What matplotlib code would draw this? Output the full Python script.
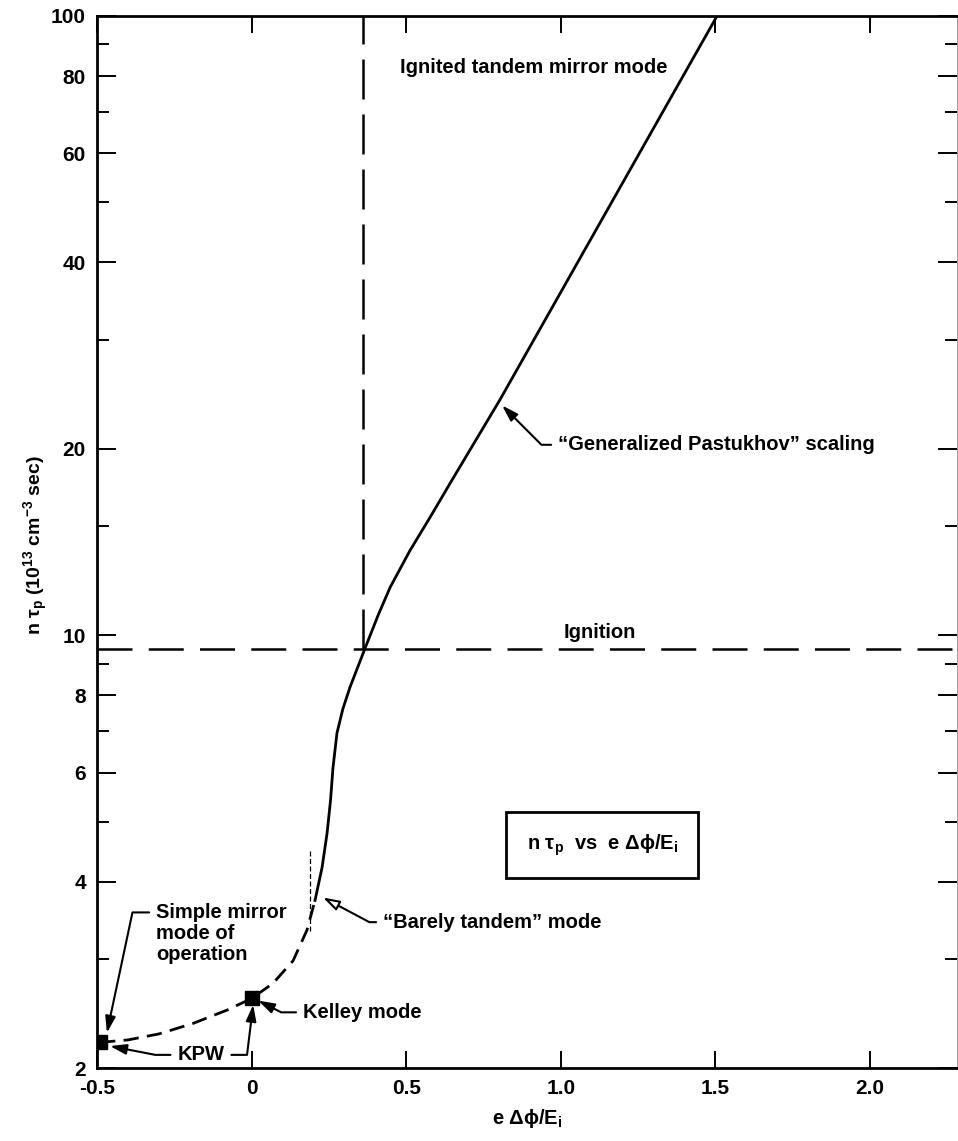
import matplotlib
matplotlib.use("Agg")
import matplotlib.pyplot as plt
from matplotlib.ticker import FixedLocator, FixedFormatter, NullFormatter

plt.rcParams['font.family'] = ['Liberation Sans', 'DejaVu Sans']
plt.rcParams['font.weight'] = 'bold'
plt.rcParams['mathtext.default'] = 'regular'

# ---- data ----
solid_x = [0.205, 0.228, 0.244, 0.255, 0.263, 0.276, 0.295, 0.318, 0.367,
           0.410, 0.448, 0.512, 0.577, 0.642, 0.803, 1.505]
solid_y = [3.73, 4.22, 4.79, 5.40, 6.10, 6.95, 7.60, 8.24, 9.53,
           10.8, 11.95, 13.7, 15.5, 17.6, 24.0, 100.0]

dashed_x = [-0.49, -0.40, -0.30, -0.19, -0.08, 0.0, 0.069, 0.134, 0.179, 0.205]
dashed_y = [2.20, 2.22, 2.27, 2.36, 2.48, 2.59, 2.74, 2.98, 3.34, 3.73]

mode_x = [-0.49, 0.0]          # KPW (simple mirror), Kelley mode
mode_y = [2.20, 2.59]

ignition_level = 9.5
ignited_x = 0.36
thin_x = [0.19, 0.19]
thin_y = [3.33, 4.5]

xticks = [-0.5, 0, 0.5, 1.0, 1.5, 2.0]
xtick_labels = ['-0.5', '0', '0.5', '1.0', '1.5', '2.0']
yticks = [2, 4, 6, 8, 10, 20, 40, 60, 80, 100]
ytick_labels = ['2', '4', '6', '8', '10', '20', '40', '60', '80', '100']
yminor = [3, 5, 7, 9, 15, 30, 50, 70, 90]

# ---- figure ----
W, H = 958, 1141
fig = plt.figure(figsize=(W / 100, H / 100), dpi=100)
ax = fig.add_axes([97 / W, (H - 1068) / H, (957 - 97) / W, (1068 - 16) / H])
ax.set_yscale('log')
ax.set_xlim(-0.5, 2.281)
ax.set_ylim(2, 100)

FS = 14.5
TFS = 15

ax.plot(solid_x, solid_y, color='black', lw=2.0, solid_joinstyle='round')
ax.plot(dashed_x, dashed_y, color='black', lw=2.0, dashes=(5.5, 3.0))
ax.plot(thin_x, thin_y, color='black', lw=0.9, dashes=(4, 2))
ax.plot(mode_x, mode_y, 's', color='black', ms=10, ls='none')

ax.axhline(ignition_level, color='black', lw=1.8, dashes=(14, 6.5))
ax.plot([ignited_x, ignited_x], [ignition_level, 100], color='black', lw=1.8,
        dashes=(16, 6))

# ---- axes styling ----
for s in ['left', 'bottom', 'top']:
    ax.spines[s].set_linewidth(2.0)
ax.spines['right'].set_linewidth(0.7)
ax.spines['right'].set_color('#9a9a9a')

ax.xaxis.set_major_locator(FixedLocator(xticks))
ax.xaxis.set_major_formatter(FixedFormatter(xtick_labels))
ax.yaxis.set_major_locator(FixedLocator(yticks))
ax.yaxis.set_major_formatter(FixedFormatter(ytick_labels))
ax.yaxis.set_minor_locator(FixedLocator(yminor))
ax.yaxis.set_minor_formatter(NullFormatter())
ax.xaxis.set_minor_locator(FixedLocator([]))

ax.tick_params(axis='x', which='major', direction='in', length=12, width=1.4,
               top=True, labelsize=TFS, pad=8)
ax.tick_params(axis='y', which='major', direction='in', length=14, width=1.4,
               right=True, labelsize=TFS, pad=8)
ax.tick_params(axis='y', which='minor', direction='in', length=8.5, width=1.4,
               right=True)
for lab in ax.get_xticklabels() + ax.get_yticklabels():
    lab.set_fontweight('bold')

ax.set_xlabel('e Δϕ/E$_i$', fontsize=FS, fontweight='bold')
ax.xaxis.set_label_coords(0.5, -0.037)
ax.set_ylabel('n τ$_p$ (10$^{13}$ cm$^{-3}$ sec)', fontsize=FS - 0.5,
              fontweight='bold')
ax.yaxis.set_label_coords(-0.055, 0.497)

# ---- annotations ----
ax.text(0.480, 82.7, 'Ignited tandem mirror mode', fontsize=FS,
        fontweight='bold', ha='left', va='center')
ax.text(1.127, 10.1, 'Ignition', fontsize=FS, fontweight='bold',
        ha='center', va='center')

ax.text(1.134, 4.58, 'n τ$_p$  vs  e Δϕ/E$_i$', fontsize=FS,
        fontweight='bold', ha='center', va='center',
        bbox=dict(boxstyle='square,pad=1.0', fc='white', ec='black', lw=2.0))

ARROW = '-|>,head_length=0.7,head_width=0.22'


def leader(text, xy, xytext, angA, angB, relpos=(0, 0.5), fc='black',
           color='black', **kw):
    ax.annotate(text, xy=xy, xytext=xytext, fontsize=FS, fontweight='bold',
                va='center', ha=kw.pop('ha', 'left'), color=color,
                arrowprops=dict(arrowstyle=ARROW,
                                connectionstyle=f'angle,angleA={angA},angleB={angB},rad=0',
                                lw=1.5, color='black', fc=fc, relpos=relpos,
                                shrinkA=3, shrinkB=0, mutation_scale=14),
                **kw)


leader('“Generalized Pastukhov” scaling', (0.810, 23.5), (0.991, 20.3), 0, -45)
leader('“Barely tandem” mode', (0.231, 3.77), (0.425, 3.44), 0, -28, fc='white')
leader('Kelley mode', (0.021, 2.57), (0.166, 2.46), 0, -27)
leader('Simple mirror\nmode of\noperation', (-0.468, 2.28), (-0.309, 3.30),
       180, 78, relpos=(0, 0.84), linespacing=1.15)
leader('KPW', (-0.458, 2.17), (-0.164, 2.10), 180, -11, ha='center')
leader('KPW', (0.005, 2.53), (-0.164, 2.10), 0, 83, relpos=(1, 0.5),
       ha='center', color='none')

fig.savefig('out.png', dpi=100)
